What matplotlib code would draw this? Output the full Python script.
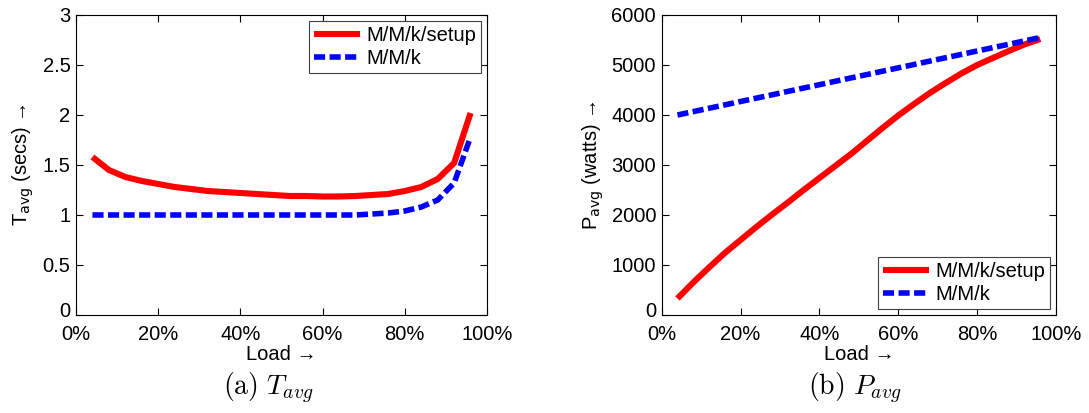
import numpy as np
import matplotlib.pyplot as plt
import matplotlib.transforms as mtransforms
from matplotlib.ticker import FuncFormatter

plt.rcParams['font.family'] = ['Liberation Sans', 'DejaVu Sans']

# load points (fraction of capacity)
load = [0.04, 0.08, 0.12, 0.16, 0.20, 0.24, 0.28, 0.32, 0.36, 0.40, 0.44, 0.48,
        0.52, 0.56, 0.60, 0.64, 0.68, 0.72, 0.76, 0.80, 0.84, 0.88, 0.92, 0.96]

# mean response time (secs)
t_setup = [1.58, 1.45, 1.38, 1.34, 1.31, 1.28, 1.26, 1.24, 1.23, 1.22, 1.21, 1.20,
           1.19, 1.19, 1.185, 1.185, 1.19, 1.20, 1.21, 1.24, 1.28, 1.36, 1.52, 2.02]
t_mmk = [1.0, 1.0, 1.0, 1.0, 1.0, 1.0, 1.0, 1.0, 1.0, 1.0, 1.0, 1.0,
         1.0, 1.0, 1.0, 1.0, 1.0, 1.01, 1.02, 1.04, 1.08, 1.15, 1.32, 1.78]

# mean power (watts)
p_setup = [330, 650, 950, 1240, 1500, 1760, 2010, 2250, 2500, 2740, 2980, 3220,
           3480, 3740, 3990, 4220, 4440, 4640, 4830, 5000, 5140, 5280, 5410, 5520]
p_mmk = [4000, 4067, 4135, 4202, 4270, 4337, 4404, 4472, 4539, 4606, 4674, 4741,
         4808, 4876, 4943, 5010, 5078, 5145, 5212, 5280, 5347, 5414, 5482, 5549]

fig = plt.figure(figsize=(10.89, 4.13), dpi=100)
ax1 = fig.add_axes([0.0698, 0.2373, 0.3774, 0.7264])
ax2 = fig.add_axes([0.6076, 0.2373, 0.3621, 0.7264])

pct = FuncFormatter(lambda v, _: f"{v * 100:.0f}%")
fs = 14.5

def style(ax):
    ax.set_xlim(0, 1)
    ax.set_xticks(np.arange(0, 1.01, 0.2))
    ax.xaxis.set_major_formatter(pct)
    ax.tick_params(direction='in', top=True, right=True, labelsize=fs,
                   length=5, width=0.8)
    ax.tick_params(axis='x', pad=7)
    ax.tick_params(axis='y', pad=4)
    for s in ax.spines.values():
        s.set_linewidth(0.8)
    ax.set_xlabel('Load →', fontsize=fs, labelpad=1)

for ax, y1, y2 in [(ax1, t_setup, t_mmk), (ax2, p_setup, p_mmk)]:
    ax.plot(load, y1, color='#ff0000', lw=4.4, label='M/M/k/setup', solid_capstyle='butt')
    ax.plot(load, y2, color='#0000ff', lw=4.0, ls=(0, (2.0, 0.8)), label='M/M/k',
            dash_capstyle='butt')
    style(ax)

ax1.set_ylim(0, 3)
ax1.set_yticks([0, 0.5, 1, 1.5, 2, 2.5, 3])
ax1.set_yticklabels(['0', '0.5', '1', '1.5', '2', '2.5', '3'])
ax1.set_ylabel(r'T$_\mathrm{avg}$ (secs) →', fontsize=fs, labelpad=5,
               math_fontfamily='dejavusans')

ax2.set_ylim(0, 6000)
ax2.set_yticks(np.arange(0, 6001, 1000))
ax2.set_ylabel(r'P$_\mathrm{avg}$ (watts) →', fontsize=fs, labelpad=4,
               math_fontfamily='dejavusans')

# lift the bottom y tick label a little so it clears the 0% label
lift = mtransforms.ScaledTranslation(0, 4 / 72, fig.dpi_scale_trans)
fig.canvas.draw()
for ax in (ax1, ax2):
    lbl = ax.get_yticklabels()[0]
    lbl.set_transform(lbl.get_transform() + lift)

leg_kw = dict(fontsize=fs, handlelength=2.3, fancybox=False, edgecolor='#404040',
              framealpha=1, borderpad=0.25, labelspacing=0.2, handletextpad=0.3,
              borderaxespad=0.3)
l1 = ax1.legend(loc='upper right', **leg_kw)
l2 = ax2.legend(loc='lower right', **leg_kw)
for l in (l1, l2):
    l.get_frame().set_linewidth(0.8)

fig.text(0.246, 0.06, r'$\mathrm{(a)}\ T_{avg}$', fontsize=20, ha='center',
         va='center', math_fontfamily='cm')
fig.text(0.785, 0.06, r'$\mathrm{(b)}\ P_{avg}$', fontsize=20, ha='center',
         va='center', math_fontfamily='cm')

fig.savefig('out.png', dpi=100)
